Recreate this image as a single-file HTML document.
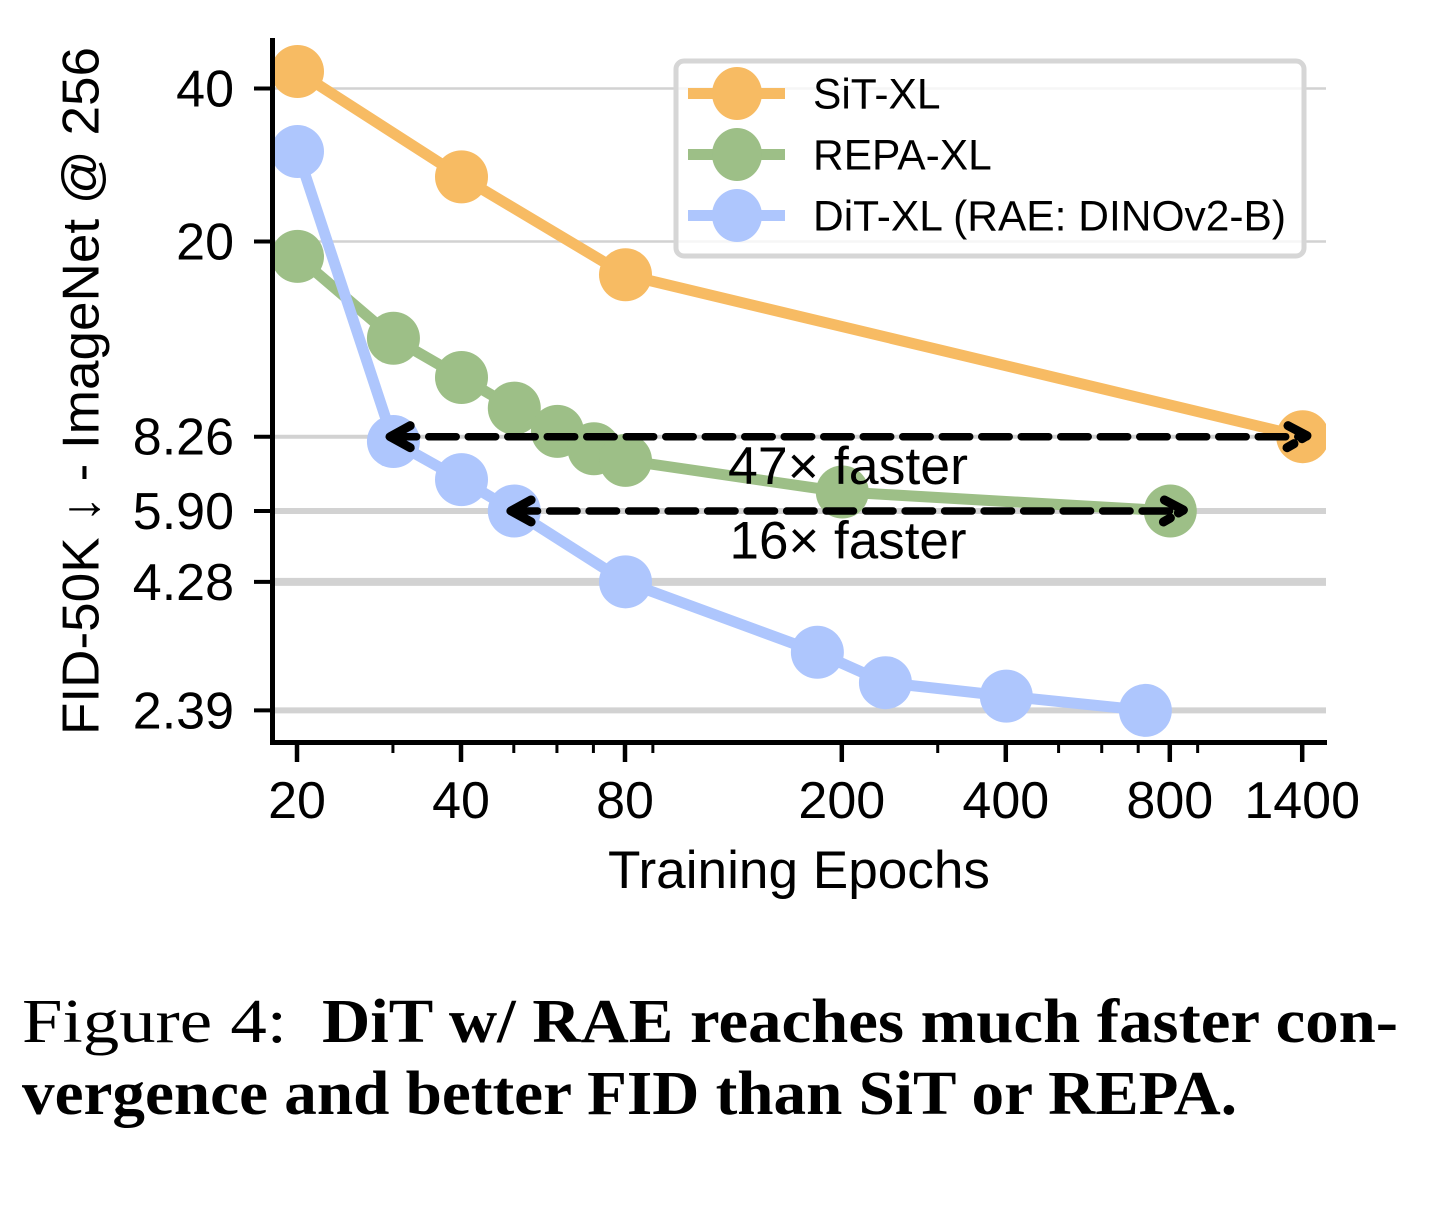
<!DOCTYPE html>
<html lang="en">
<head>
<meta charset="utf-8">
<title>FID vs Training Epochs</title>
<style>
html,body{margin:0;padding:0;background:#fff;width:1456px;height:1208px;overflow:hidden}
svg{display:block}
text{font-family:"Liberation Sans",sans-serif;fill:#000}
.cap{font-family:"Liberation Serif",serif}
</style>
</head>
<body>
<svg id="chart" width="1456" height="1208" viewBox="0 0 1456 1208" xmlns="http://www.w3.org/2000/svg">
  <defs><clipPath id="plot-clip"><rect x="272" y="38" width="1054" height="705"></rect></clipPath></defs>
  <g id="grid"></g>
  <g id="series" clip-path="url(#plot-clip)"></g>
  <g id="axes"></g>
  <g id="arrows"></g>
  <g id="legend"></g>
  <text x="799" y="888" font-size="52.5" text-anchor="middle" textLength="382" lengthAdjust="spacingAndGlyphs">Training Epochs</text>
  <text transform="translate(98.5,391) rotate(-90)" font-size="52" text-anchor="middle" textLength="688" lengthAdjust="spacingAndGlyphs">FID-50K ↓ - ImageNet @ 256</text>
  <text x="848" y="484" font-size="53" text-anchor="middle" textLength="240" lengthAdjust="spacingAndGlyphs">47× faster</text>
  <text x="848" y="558.5" font-size="53" text-anchor="middle" textLength="237" lengthAdjust="spacingAndGlyphs">16× faster</text>
  <text class="cap" x="22" y="1042" font-size="62" textLength="265" lengthAdjust="spacingAndGlyphs">Figure 4:</text>
  <text class="cap" x="322" y="1042" font-size="62" font-weight="bold" textLength="1076" lengthAdjust="spacingAndGlyphs">DiT w/ RAE reaches much faster con-</text>
  <text class="cap" x="22" y="1114" font-size="62" font-weight="bold" textLength="1215" lengthAdjust="spacingAndGlyphs">vergence and better FID than SiT or REPA.</text>
</svg>
<script>
const xTicks = [20, 40, 80, 200, 400, 800, 1400];
const xMinorTicks = [30, 50, 60, 70, 90, 300, 500, 600, 700, 900];
const yTicks = [40, 20, 8.26, 5.90, 4.28, 2.39];
const yTickLabels = ['40', '20', '8.26', '5.90', '4.28', '2.39'];
const gridWidths = [2.5, 2.5, 4, 6, 8, 6];

const sitEpochs = [20, 40, 80, 1400];
const sitFid = [43.2, 26.8, 17.2, 8.26];
const repaEpochs = [20, 30, 40, 50, 60, 70, 80, 200, 800];
const repaFid = [18.7, 12.9, 10.8, 9.4, 8.46, 7.82, 7.42, 6.43, 5.90];
const ditEpochs = [20, 30, 40, 50, 80, 180, 240, 400, 720];
const ditFid = [30.06, 8.08, 6.80, 5.90, 4.28, 3.11, 2.71, 2.55, 2.39];

const arrowFrom = [29.1, 48.5];
const arrowTo = [1450, 860];
const arrowFid = [8.26, 5.90];

const seriesNames = ['SiT-XL', 'REPA-XL', 'DiT-XL (RAE: DINOv2-B)'];
const seriesColors = ['#F7BB63', '#9DBF87', '#AEC6FD'];

const NS = 'http://www.w3.org/2000/svg';
function xScale(v) { return 297.5 + 164 * Math.log2(v / 20); }
function yScale(v) { return 241.5 + 153 * Math.log2(20 / v); }
function mk(parent, tag, attrs, txt) {
  const el = document.createElementNS(NS, tag);
  for (const k in attrs) el.setAttribute(k, attrs[k]);
  if (txt !== undefined) el.textContent = txt;
  parent.appendChild(el);
  return el;
}
const gridG = document.getElementById('grid');
const seriesG = document.getElementById('series');
const axesG = document.getElementById('axes');
const arrowsG = document.getElementById('arrows');
const legendG = document.getElementById('legend');

yTicks.forEach(function (t, i) {
  const y = yScale(t);
  const g = mk(gridG, 'line', {x1: 272, x2: 1326, y1: y, y2: y, stroke: '#d2d2d2', 'stroke-width': gridWidths[i]});
  
  
  const tk = mk(axesG, 'line', {x1: 254, x2: 272, y1: y, y2: y, stroke: '#000', 'stroke-width': 4});
  
  
  const lb = mk(axesG, 'text', {x: 234, y: y + 18, 'font-size': 52, 'text-anchor': 'end'}, yTickLabels[i]);
  
  
});

function drawSeries(name, xs, ys, color) {
  const g = mk(seriesG, 'g', {});
  
  
  const pts = xs.map(function (x, i) { return xScale(x) + ',' + yScale(ys[i]); }).join(' ');
  const ln = mk(g, 'polyline', {points: pts, fill: 'none', stroke: color, 'stroke-width': 11, 'stroke-linejoin': 'round'});
  
  
  xs.forEach(function (x, i) {
    const c = mk(g, 'circle', {cx: xScale(x), cy: yScale(ys[i]), r: 26.5, fill: color});
    
    
  });
}
drawSeries('sit-xl-series', sitEpochs, sitFid, seriesColors[0]);
drawSeries('repa-xl-series', repaEpochs, repaFid, seriesColors[1]);
drawSeries('dit-xl-series', ditEpochs, ditFid, seriesColors[2]);

const spineL = mk(axesG, 'line', {x1: 272.5, x2: 272.5, y1: 38, y2: 745, stroke: '#000', 'stroke-width': 5});


const spineB = mk(axesG, 'line', {x1: 270, x2: 1327, y1: 742.5, y2: 742.5, stroke: '#000', 'stroke-width': 5});



xTicks.forEach(function (t) {
  const x = xScale(t) - 0.5;
  const tk = mk(axesG, 'line', {x1: x, x2: x, y1: 743, y2: 762, stroke: '#000', 'stroke-width': 4.5});
  
  
  const lb = mk(axesG, 'text', {x: x, y: 818, 'font-size': 52, 'text-anchor': 'middle'}, String(t));
  
  
});
xMinorTicks.forEach(function (t) {
  const x = xScale(t) - 0.5;
  const tk = mk(axesG, 'line', {x1: x, x2: x, y1: 743, y2: 753, stroke: '#000', 'stroke-width': 3});
  
  
});

arrowFrom.forEach(function (from, i) {
  const x1 = xScale(from);
  const x2 = xScale(arrowTo[i]);
  const y = yScale(arrowFid[i]);
  const g = mk(arrowsG, 'g', {stroke: '#000', 'stroke-width': 9, 'stroke-linecap': 'round', 'stroke-linejoin': 'round', fill: 'none'});
  
  
  mk(g, 'line', {x1: x1 + 3, x2: x2 - 4, y1: y, y2: y, 'stroke-dasharray': '27.5 12', 'stroke-width': 7.5});
  mk(g, 'path', {d: 'M' + (x1 + 24) + ' ' + (y - 11) + ' L' + (x1 + 4) + ' ' + y + ' L' + (x1 + 24) + ' ' + (y + 11)});
  mk(g, 'path', {d: 'M' + (x2 - 23) + ' ' + (y - 11) + ' L' + (x2 - 4) + ' ' + (y - 1) + ' L' + (x2 - 9) + ' ' + (y + 2)});
  mk(g, 'line', {x1: x2 - 17, x2: x2 - 24, y1: y + 7, y2: y + 11});
});

const box = mk(legendG, 'rect', {x: 676, y: 61, width: 628, height: 195, rx: 8, ry: 8, fill: 'rgba(255,255,255,0.8)', stroke: '#d6d6d6', 'stroke-width': 5});


seriesNames.forEach(function (n, i) {
  const y = 93.5 + i * 61;
  const g = mk(legendG, 'g', {});
  
  
  mk(g, 'line', {x1: 688, x2: 785, y1: y, y2: y, stroke: seriesColors[i], 'stroke-width': 11});
  mk(g, 'ellipse', {cx: 737, cy: y, rx: 25, ry: 26.5, fill: seriesColors[i]});
  mk(g, 'text', {x: 813, y: y + 15, 'font-size': 42.5}, n);
});
</script>
</body>
</html>
